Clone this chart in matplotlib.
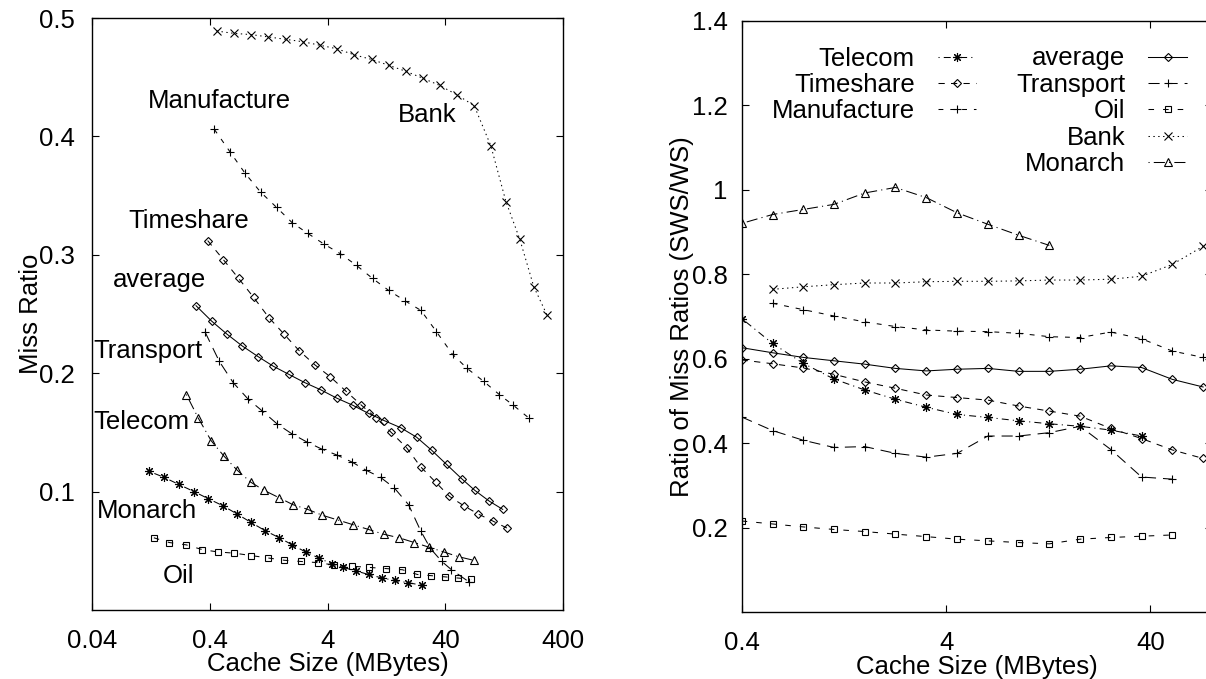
import numpy as np
import matplotlib
matplotlib.use("Agg")
import matplotlib.pyplot as plt
from matplotlib.lines import Line2D
from matplotlib.legend_handler import HandlerLine2D
from matplotlib.ticker import NullLocator

plt.rcParams["font.family"] = ["Liberation Sans", "DejaVu Sans"]
plt.rcParams["lines.scale_dashes"] = False

# ---------------- left panel: miss ratio vs cache size ----------------
bank_x = [0.458, 0.642, 0.895, 1.26, 1.76, 2.46, 3.45, 4.81, 6.70, 9.47, 13.3,
          18.5, 26.0, 36.0, 50.5, 70.4, 97.6, 131, 172, 226, 293]
bank_y = [0.489, 0.487, 0.486, 0.484, 0.482, 0.480, 0.477, 0.474, 0.469, 0.465, 0.460,
          0.455, 0.449, 0.443, 0.435, 0.426, 0.392, 0.345, 0.313, 0.273, 0.249]

manuf_x = [0.437, 0.594, 0.796, 1.08, 1.48, 2.01, 2.73, 3.74, 5.13, 7.06, 9.66,
           13.2, 18.3, 24.9, 33.7, 46.1, 61.4, 85.1, 115, 151, 206]
manuf_y = [0.406, 0.387, 0.369, 0.353, 0.340, 0.327, 0.318, 0.309, 0.301, 0.291, 0.280,
           0.270, 0.261, 0.253, 0.235, 0.216, 0.204, 0.193, 0.182, 0.173, 0.162]

timeshare_x = [0.384, 0.521, 0.704, 0.944, 1.27, 1.71, 2.30, 3.13, 4.22, 5.71, 7.76,
               10.4, 13.9, 18.8, 24.7, 33.1, 43.4, 57.6, 76.4, 102, 135]
timeshare_y = [0.312, 0.296, 0.280, 0.264, 0.247, 0.233, 0.219, 0.207, 0.197, 0.185, 0.173,
               0.162, 0.150, 0.137, 0.121, 0.108, 0.096, 0.088, 0.081, 0.075, 0.069]

average_x = [0.306, 0.415, 0.560, 0.755, 1.03, 1.38, 1.88, 2.57, 3.50, 4.78, 6.53,
             8.94, 12.1, 16.7, 22.8, 30.6, 41.0, 55.0, 71.4, 94.4, 123]
average_y = [0.257, 0.244, 0.233, 0.223, 0.214, 0.206, 0.199, 0.192, 0.186, 0.179, 0.173,
             0.166, 0.160, 0.154, 0.146, 0.135, 0.123, 0.111, 0.101, 0.092, 0.085]

transport_x = [0.364, 0.482, 0.633, 0.849, 1.12, 1.50, 1.98, 2.66, 3.56, 4.78,
               6.44, 8.52, 11.3, 14.8, 19.5, 24.7, 29.9, 37.4, 45.2, 63.1]
transport_y = [0.235, 0.210, 0.192, 0.178, 0.168, 0.157, 0.149, 0.142, 0.136, 0.131,
               0.125, 0.118, 0.112, 0.103, 0.089, 0.067, 0.052, 0.041, 0.034, 0.024]

monarch_x = [0.253, 0.320, 0.411, 0.528, 0.685, 0.890, 1.16, 1.54, 2.03, 2.71, 3.62,
             4.90, 6.61, 8.94, 12.0, 16.2, 21.8, 29.2, 38.9, 51.9, 69.6]
monarch_y = [0.182, 0.162, 0.143, 0.130, 0.118, 0.108, 0.101, 0.095, 0.089, 0.085, 0.080,
             0.076, 0.072, 0.068, 0.064, 0.061, 0.057, 0.053, 0.049, 0.045, 0.042]

telecom_x = [0.123, 0.164, 0.219, 0.294, 0.389, 0.518, 0.685, 0.895, 1.18, 1.56, 2.01,
             2.61, 3.37, 4.33, 5.44, 6.93, 8.95, 11.6, 14.9, 19.4, 25.2]
telecom_y = [0.117, 0.112, 0.106, 0.100, 0.094, 0.088, 0.081, 0.074, 0.067, 0.061, 0.055,
             0.049, 0.044, 0.039, 0.036, 0.033, 0.030, 0.027, 0.025, 0.023, 0.021]

oil_x = [0.134, 0.181, 0.253, 0.346, 0.472, 0.648, 0.898, 1.24, 1.72, 2.37, 3.32,
         4.52, 6.41, 8.94, 12.5, 17.3, 23.2, 30.4, 39.7, 51.2, 66.4]
oil_y = [0.061, 0.057, 0.055, 0.051, 0.049, 0.048, 0.046, 0.044, 0.042, 0.041, 0.040,
         0.038, 0.037, 0.036, 0.035, 0.034, 0.030, 0.029, 0.028, 0.027, 0.026]

left_xticks = [0.04, 0.4, 4, 40, 400]
left_xticklabels = ["0.04", "0.4", "4", "40", "400"]
left_yticks = [0.1, 0.2, 0.3, 0.4, 0.5]
left_yticklabels = ["0.1", "0.2", "0.3", "0.4", "0.5"]

# ---------------- right panel: SWS/WS ratio ----------------
ratio_size = [0.4, 0.566, 0.8, 1.13, 1.6, 2.26, 3.2, 4.53, 6.4, 9.05, 12.8,
              18.1, 25.6, 36.2, 51.2, 72.4]
r_telecom = [0.695, 0.636, 0.589, 0.552, 0.526, 0.504, 0.485, 0.468, 0.461, 0.453,
             0.446, 0.440, 0.431, 0.417]
r_timeshare = [0.597, 0.588, 0.578, 0.563, 0.545, 0.530, 0.514, 0.508, 0.502, 0.488,
               0.476, 0.464, 0.435, 0.411, 0.384, 0.364]
r_manuf = [0.731, 0.716, 0.701, 0.687, 0.676, 0.668, 0.665, 0.664, 0.660, 0.652,
           0.650, 0.663, 0.647, 0.618, 0.603]
r_average = [0.626, 0.614, 0.603, 0.595, 0.587, 0.577, 0.571, 0.575, 0.577, 0.570,
             0.570, 0.575, 0.583, 0.579, 0.551, 0.533]
r_transport = [0.462, 0.430, 0.407, 0.390, 0.392, 0.376, 0.367, 0.376, 0.417, 0.417,
               0.425, 0.440, 0.385, 0.320, 0.315]
r_oil = [0.216, 0.209, 0.202, 0.196, 0.191, 0.185, 0.179, 0.173, 0.169, 0.165,
         0.162, 0.173, 0.177, 0.180, 0.183]
r_bank = [0.764, 0.770, 0.775, 0.779, 0.779, 0.782, 0.783, 0.783, 0.784, 0.786,
          0.786, 0.788, 0.795, 0.823, 0.866]
r_monarch = [0.920, 0.941, 0.953, 0.965, 0.992, 1.005, 0.981, 0.945, 0.918, 0.892, 0.868]

right_xticks = [0.4, 4, 40]
right_xticklabels = ["0.4", "4", "40"]
right_yticks = [0.2, 0.4, 0.6, 0.8, 1.0, 1.2, 1.4]
right_yticklabels = ["0.2", "0.4", "0.6", "0.8", "1", "1.2", "1.4"]

# ---------------- styles ----------------
FS = 18.5
LW = 0.75
styles = {
    "Telecom":     dict(marker=(8, 2, 0), ms=6.5, ls=(0, (0.8, 3, 5, 3))),
    "Timeshare":   dict(marker="D", ms=3.8, ls=(0, (4.5, 4.5))),
    "Manufacture": dict(marker="+", ms=6.0, ls=(0, (3.5, 5))),
    "average":     dict(marker="D", ms=3.8, ls="-"),
    "Transport":   dict(marker="+", ms=6.0, ls=(0, (8, 5))),
    "Oil":         dict(marker="s", ms=5.0, ls=(0, (4, 6.5))),
    "Bank":        dict(marker="x", ms=5.8, ls=(0, (1, 2.5))),
    "Monarch":     dict(marker="^", ms=6.0, ls=(0, (0.8, 3, 8, 3))),
}


def draw(ax, name, x, y):
    st = styles[name]
    (ln,) = ax.plot(x, y, color="black", lw=LW, linestyle=st["ls"],
                    marker=st["marker"], ms=st["ms"], mew=0.8,
                    mfc="none", mec="black", label=name)
    return ln


def style_axes(ax, xticks, xlabels, yticks, ylabels, ypad):
    ax.set_xscale("log")
    ax.xaxis.set_minor_locator(NullLocator())
    ax.set_xticks(xticks)
    ax.set_xticklabels(xlabels)
    ax.set_yticks(yticks)
    ax.set_yticklabels(ylabels)
    ax.tick_params(which="both", direction="in", top=True, right=True,
                   length=5, width=0.8, labelsize=FS)
    ax.tick_params(axis="x", pad=13.5)
    ax.tick_params(axis="y", pad=ypad)
    for sp in ax.spines.values():
        sp.set_linewidth(1.0)


W, H = 1206, 679
fig = plt.figure(figsize=(W / 100, H / 100), dpi=100)

# left panel
axL = fig.add_axes([92 / W, (H - 610) / H, 471 / W, 592 / H])
draw(axL, "Bank", bank_x, bank_y)
draw(axL, "Manufacture", manuf_x, manuf_y)
draw(axL, "Timeshare", timeshare_x, timeshare_y)
draw(axL, "average", average_x, average_y)
draw(axL, "Transport", transport_x, transport_y)
draw(axL, "Monarch", monarch_x, monarch_y)
draw(axL, "Telecom", telecom_x, telecom_y)
draw(axL, "Oil", oil_x, oil_y)
axL.set_xlim(0.04, 400)
axL.set_ylim(0, 0.5)
style_axes(axL, left_xticks, left_xticklabels, left_yticks, left_yticklabels, 12.5)
axL.set_xlabel("Cache Size (MBytes)", fontsize=FS, va="baseline")
axL.xaxis.set_label_coords(0.5, -(671.5 - 610) / 592)
axL.set_ylabel("Miss Ratio", fontsize=FS, va="baseline")
axL.yaxis.set_label_coords(-(92 - 38) / 471, 0.5)

# curve names written beside the left-hand curves
curve_names = [
    ("Manufacture", 0.12, 0.424),
    ("Bank", 15.8, 0.412),
    ("Timeshare", 0.081, 0.3226),
    ("average", 0.060, 0.2728),
    ("Transport", 0.0408, 0.2128),
    ("Telecom", 0.0408, 0.1529),
    ("Monarch", 0.0441, 0.0777),
    ("Oil", 0.160, 0.0228),
]
for txt, tx, ty in curve_names:
    axL.text(tx, ty, txt, fontsize=FS, ha="left", va="baseline")

# right panel (its right edge runs past the figure border)
axR = fig.add_axes([741.7 / W, (H - 612.3) / H, 470.3 / W, 591.8 / H])
hs = {}
hs["Telecom"] = draw(axR, "Telecom", ratio_size[:len(r_telecom)], r_telecom)
hs["Timeshare"] = draw(axR, "Timeshare", ratio_size[:len(r_timeshare)], r_timeshare)
hs["Manufacture"] = draw(axR, "Manufacture", ratio_size[1:1 + len(r_manuf)], r_manuf)
hs["average"] = draw(axR, "average", ratio_size[:len(r_average)], r_average)
hs["Transport"] = draw(axR, "Transport", ratio_size[:len(r_transport)], r_transport)
hs["Oil"] = draw(axR, "Oil", ratio_size[:len(r_oil)], r_oil)
hs["Bank"] = draw(axR, "Bank", ratio_size[1:1 + len(r_bank)], r_bank)
hs["Monarch"] = draw(axR, "Monarch", ratio_size[:len(r_monarch)], r_monarch)
axR.set_xlim(0.4, 80)
axR.set_ylim(0, 1.4)
style_axes(axR, right_xticks, right_xticklabels, right_yticks, right_yticklabels, 10.3)
axR.set_xlabel("Cache Size (MBytes)", fontsize=FS, va="baseline")
axR.xaxis.set_label_coords(0.5, -(674 - 612.3) / 591.8)
axR.set_ylabel("Ratio of Miss Ratios (SWS/WS)", fontsize=FS, va="baseline")
axR.yaxis.set_label_coords(-(741.7 - 689) / 470.3, 0.5)


class MarkerAtStart(HandlerLine2D):
    """Key sample with the point symbol at the start of the line."""

    def get_xdata(self, legend, xdescent, ydescent, width, height, fontsize):
        xdata = np.array([-xdescent, -xdescent + width])
        return xdata, xdata[:1]


blank = Line2D([], [], linestyle="none", marker="none")
order = ["Telecom", "Timeshare", "Manufacture", None, None,
         "average", "Transport", "Oil", "Bank", "Monarch"]
handles = [hs[k] if k else blank for k in order]
labels = [k if k else "" for k in order]
axR.legend(handles, labels, ncol=2, markerfirst=False, frameon=False,
           fontsize=FS, loc="upper right",
           bbox_to_anchor=((1187 - 741.7) / 470.3, (612.3 - 46.5) / 591.8),
           borderpad=0, borderaxespad=0, handlelength=1.5, handletextpad=0.9,
           labelspacing=0.095, columnspacing=1.55,
           handler_map={Line2D: MarkerAtStart()})

fig.savefig("out.png", dpi=100)
